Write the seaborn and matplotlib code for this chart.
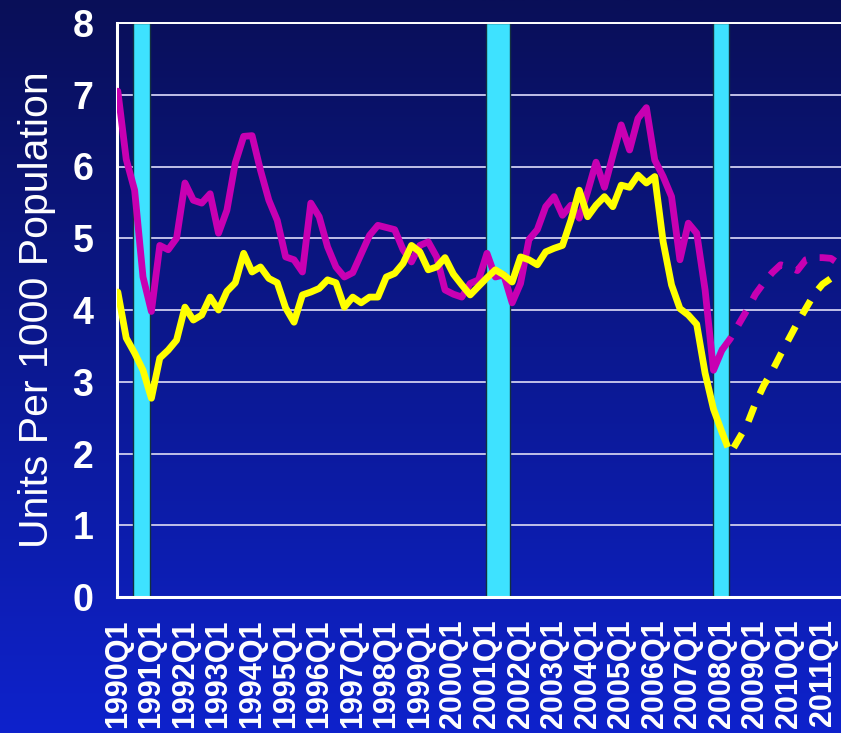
import numpy as np
import pandas as pd
import matplotlib
matplotlib.use("Agg")
import matplotlib.pyplot as plt
import seaborn as sns

# quarterly series, 1990Q1 = position 0
actual_magenta = [7.05, 6.10, 5.67, 4.46, 3.98, 4.90, 4.84, 5.00, 5.77, 5.53,
                  5.49, 5.62, 5.07, 5.39, 6.05, 6.42, 6.43, 5.95, 5.53, 5.25,
                  4.74, 4.70, 4.53, 5.49, 5.30, 4.88, 4.60, 4.46, 4.52, 4.78,
                  5.04, 5.18, 5.15, 5.12, 4.84, 4.67, 4.90, 4.95, 4.74, 4.28,
                  4.22, 4.18, 4.37, 4.42, 4.79, 4.46, 4.49, 4.10, 4.37, 4.98,
                  5.12, 5.44, 5.58, 5.32, 5.46, 5.28, 5.65, 6.06, 5.71, 6.15,
                  6.58, 6.23, 6.67, 6.82, 6.09, 5.86, 5.58, 4.70, 5.21, 5.07,
                  4.28, 3.16, 3.44]
actual_yellow = [4.25, 3.61, 3.40, 3.16, 2.77, 3.33, 3.44, 3.58, 4.04, 3.86,
                 3.93, 4.18, 4.00, 4.26, 4.38, 4.79, 4.53, 4.60, 4.44, 4.38,
                 4.03, 3.83, 4.21, 4.25, 4.30, 4.42, 4.38, 4.04, 4.18, 4.10,
                 4.18, 4.18, 4.46, 4.51, 4.65, 4.90, 4.81, 4.56, 4.60, 4.73,
                 4.50, 4.35, 4.21, 4.33, 4.45, 4.56, 4.49, 4.39, 4.74, 4.70,
                 4.63, 4.81, 4.86, 4.90, 5.25, 5.67, 5.30, 5.46, 5.58, 5.44,
                 5.74, 5.71, 5.88, 5.77, 5.86, 4.95, 4.35, 4.02, 3.93, 3.80,
                 3.12, 2.62, 2.30]
# forecasts start at position 72 (2008Q1)
forecast_magenta = [3.44, 3.60, 3.80, 4.00, 4.22, 4.38, 4.52, 4.63, 4.60, 4.55,
                    4.70, 4.73, 4.73, 4.72, 4.64]
forecast_yellow = [2.30, 2.00, 2.20, 2.40, 2.70, 2.95, 3.15, 3.38, 3.60, 3.82,
                   4.02, 4.22, 4.36, 4.44, 4.50]
forecast_start = 72

# recession shading (quarter positions)
recessions = [(1.8, 3.8), (43.9, 46.7), (70.9, 72.8)]

year_labels = ["1990Q1", "1991Q1", "1992Q1", "1993Q1", "1994Q1", "1995Q1",
               "1996Q1", "1997Q1", "1998Q1", "1999Q1", "2000Q1", "2001Q1",
               "2002Q1", "2003Q1", "2004Q1", "2005Q1", "2006Q1", "2007Q1",
               "2008Q1", "2009Q1", "2010Q1", "2011Q1"]

MAGENTA = "#c800b2"
YELLOW = "#ffff00"
CYAN = "#3ee2ff"

sns.set_theme(style="white")
plt.rcParams["font.family"] = ["Liberation Sans", "DejaVu Sans"]

fig = plt.figure(figsize=(8.41, 7.33), dpi=100)

# gradient background
bg = fig.add_axes([0, 0, 1, 1], zorder=0)
top = np.array([9, 15, 88]) / 255
bottom = np.array([14, 34, 204]) / 255
t = np.linspace(0, 1, 256)[:, None]
grad = (top[None, :] * (1 - t) + bottom[None, :] * t)[:, None, :]
bg.imshow(grad, aspect="auto", extent=[0, 1, 0, 1])
bg.axis("off")

ax = fig.add_axes([117 / 841, 136 / 733, 1 - 117 / 841, 574 / 733], zorder=1)
ax.patch.set_alpha(0)

for y in range(1, 9):
    ax.axhline(y, color="#c0c0e8", lw=1.4, zorder=1)

for x0, x1 in recessions:
    ax.axvspan(x0, x1, facecolor=CYAN, edgecolor="#123040", lw=1.0, zorder=2)

df_act = pd.DataFrame({"q": np.arange(len(actual_magenta)),
                       "magenta": actual_magenta, "yellow": actual_yellow})
df_fc = pd.DataFrame({"q": np.arange(forecast_start, forecast_start + len(forecast_magenta)),
                      "magenta": forecast_magenta, "yellow": forecast_yellow})

lw = 4.9
sns.lineplot(data=df_act, x="q", y="magenta", color=MAGENTA, lw=lw, ax=ax, zorder=3)
sns.lineplot(data=df_act, x="q", y="yellow", color=YELLOW, lw=lw, ax=ax, zorder=4)
sns.lineplot(data=df_fc, x="q", y="magenta", color=MAGENTA, lw=lw, ax=ax, zorder=3,
             linestyle=(0, (2.4, 2.0)), dash_capstyle="butt")
sns.lineplot(data=df_fc, x="q", y="yellow", color=YELLOW, lw=lw, ax=ax, zorder=4,
             linestyle=(0, (2.4, 2.0)), dash_capstyle="butt")

ax.set_xlim(-0.1, 86.2)
ax.set_ylim(0, 8)
ax.set_yticks(range(0, 9))
ax.set_yticklabels([str(v) for v in range(0, 9)], fontsize=27, fontweight="bold", color="white")
ax.set_xticks(np.arange(0, 4 * len(year_labels), 4))
ax.set_xticklabels(year_labels, rotation=90, fontsize=22, fontweight="bold",
                   color="white", va="top")
ax.tick_params(axis="y", direction="out", length=12, width=1.2, color="black", pad=5)
ax.tick_params(axis="x", length=0, pad=16)
ax.set_xlabel("")
ax.set_ylabel("Units Per 1000 Population", fontsize=29.5, color="white", labelpad=12)

ax.spines["right"].set_visible(False)
for side in ["left", "bottom", "top"]:
    ax.spines[side].set_color("white")
    ax.spines[side].set_linewidth(2.2)
ax.spines["top"].set_linewidth(1.4)

fig.savefig("out.png", dpi=100)
